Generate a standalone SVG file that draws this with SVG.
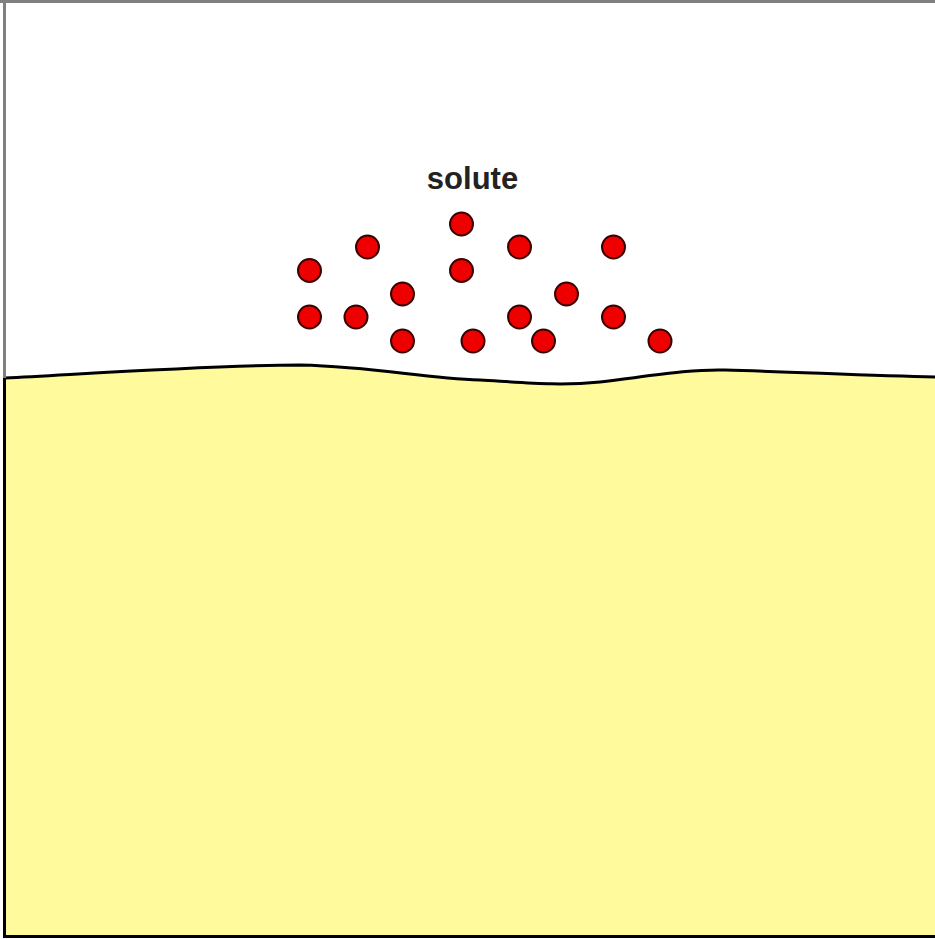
<svg xmlns="http://www.w3.org/2000/svg" width="935" height="939" viewBox="0 0 935 939">
<style>
.p{fill:#ee0000;stroke:#3a0000;stroke-width:2}
.t{font-family:"Liberation Sans",Arial,sans-serif;font-weight:bold;font-size:31px;fill:#222}
</style>
<rect width="935" height="939" fill="#fff"/>
<g id="solvent">
<path d="M5,378 C100,373 220,365 300,365 C380,367 420,378 480,380 C530,383 560,386 600,382 C650,376 690,369 725,370 C800,372 870,376 935,377 L935,937 L5,937 Z" fill="#fffb9d"/>
<path d="M5,378 C100,373 220,365 300,365 C380,367 420,378 480,380 C530,383 560,386 600,382 C650,376 690,369 725,370 C800,372 870,376 935,377" fill="none" stroke="#000" stroke-width="3"/>
</g>
<g id="frame">
<line x1="0" y1="1.5" x2="935" y2="1.5" stroke="#808080" stroke-width="3"/>
<line x1="4.5" y1="0" x2="4.5" y2="378" stroke="#808080" stroke-width="3"/>
<line x1="4.5" y1="378" x2="4.5" y2="938" stroke="#000" stroke-width="3"/>
<line x1="3" y1="936.5" x2="935" y2="936.5" stroke="#000" stroke-width="3"/>
</g>
<g id="label">
<text class="t" x="472.5" y="189" text-anchor="middle">solute</text>
</g>
<g id="particles">
<circle class="p" cx="461.5" cy="224" r="11.5"/>
<circle class="p" cx="367.5" cy="247" r="11.5"/>
<circle class="p" cx="519.5" cy="247" r="11.5"/>
<circle class="p" cx="613.5" cy="247" r="11.5"/>
<circle class="p" cx="309.5" cy="270.5" r="11.5"/>
<circle class="p" cx="461.5" cy="270.5" r="11.5"/>
<circle class="p" cx="402.5" cy="294" r="11.5"/>
<circle class="p" cx="566.5" cy="294" r="11.5"/>
<circle class="p" cx="309.5" cy="317" r="11.5"/>
<circle class="p" cx="356" cy="317" r="11.5"/>
<circle class="p" cx="519.5" cy="317" r="11.5"/>
<circle class="p" cx="613.5" cy="317" r="11.5"/>
<circle class="p" cx="402.5" cy="341" r="11.5"/>
<circle class="p" cx="473" cy="341" r="11.5"/>
<circle class="p" cx="543.5" cy="341" r="11.5"/>
<circle class="p" cx="660" cy="341" r="11.5"/>
</g>
</svg>
